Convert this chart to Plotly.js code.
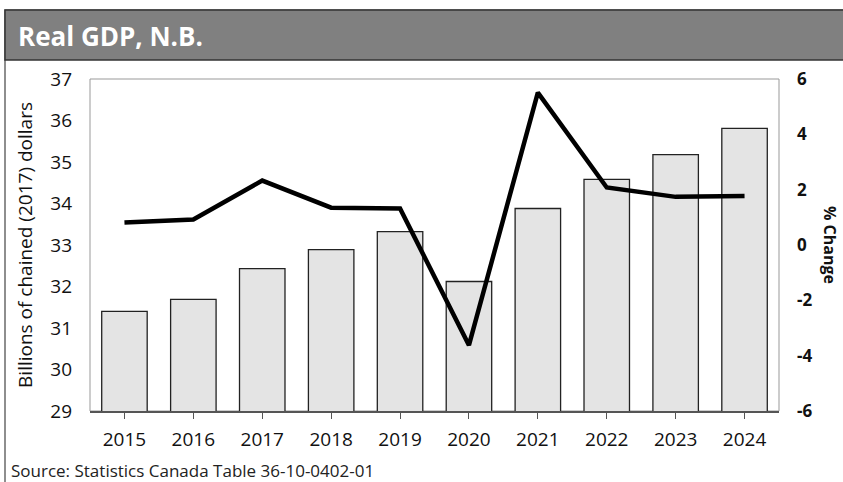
<!DOCTYPE html>
<html>
<head>
<meta charset="utf-8">
<script src="https://cdn.plot.ly/plotly-3.0.1.min.js"></script>
<style>
html,body{margin:0;padding:0;background:#fff;}
#chart{width:843px;height:482px;}
</style>
</head>
<body>
<div id="chart"></div>
<script>
var years = ['2015','2016','2017','2018','2019','2020','2021','2022','2023','2024'];
var gdp = [31.40, 31.69, 32.43, 32.89, 33.32, 32.12, 33.88, 34.58, 35.18, 35.81];
var pctChange = [0.81, 0.92, 2.33, 1.35, 1.32, -3.62, 5.51, 2.08, 1.74, 1.77];
var leftTicks = [29,30,31,32,33,34,35,36,37];
var rightTicks = [-6,-4,-2,0,2,4,6];

var L = 90, R = 779, T = 79, B = 411, W = 843, H = 482;
function px(x){ return (x - L) / (R - L); }
function py(y){ return (B - y) / (B - T); }

var traces = [
  {
    type: 'bar', x: years, y: gdp, yaxis: 'y',
    marker: {color: '#e4e4e4', line: {color: '#222', width: 1.3}},
    hoverinfo: 'x+y'
  },
  {
    type: 'scatter', mode: 'lines', x: years, y: pctChange, yaxis: 'y2',
    line: {color: '#000', width: 4.5},
    hoverinfo: 'x+y'
  }
];

var layout = {
  width: W, height: H,
  margin: {l: L, r: W - R, t: T, b: H - B, pad: 0},
  paper_bgcolor: '#fff', plot_bgcolor: '#fff',
  showlegend: false,
  bargap: 0.34,
  font: {family: 'Open Sans, sans-serif', color: '#111'},
  xaxis: {
    type: 'category', range: [-0.5, 9.5],
    showline: true, linecolor: '#555', linewidth: 2,
    ticks: 'outside', ticklen: 6, tickcolor: '#555', tickwidth: 1,
    ticklabelstandoff: 4,
    tickfont: {size: 19, color: '#111'},
    showgrid: false, zeroline: false
  },
  yaxis: {
    range: [29, 37], tickvals: leftTicks, ticktext: leftTicks.map(String),
    showline: false, showgrid: false, zeroline: false,
    ticks: '', ticklabelstandoff: 17,
    tickfont: {size: 19, color: '#111'},
    title: {text: 'Billions of chained (2017) dollars', font: {size: 19, color: '#111'}, standoff: 12}
  },
  yaxis2: {
    overlaying: 'y', side: 'right',
    range: [-6, 6], tickvals: rightTicks, ticktext: rightTicks.map(String),
    showline: false, showgrid: false, zeroline: false,
    ticks: '', ticklabelstandoff: 17,
    tickfont: {size: 17, color: '#111', weight: 'bold'}
  },
  shapes: [
    {type: 'rect', xref: 'paper', yref: 'paper', layer: 'below',
     x0: px(5), x1: px(850), y0: py(490), y1: py(10),
     line: {color: '#444', width: 1.2}, fillcolor: 'rgba(0,0,0,0)'},
    {type: 'rect', xref: 'paper', yref: 'paper', layer: 'below',
     x0: px(5), x1: px(850), y0: py(60), y1: py(10),
     line: {color: '#333', width: 1.5}, fillcolor: '#808080'},
    {type: 'rect', xref: 'paper', yref: 'paper', layer: 'below',
     x0: 0, x1: 1, y0: 0, y1: 1,
     line: {color: '#999', width: 1}, fillcolor: 'rgba(0,0,0,0)'}
  ],
  annotations: [
    {xref: 'paper', yref: 'paper', x: px(16), y: py(36), xanchor: 'left', yanchor: 'middle',
     text: 'Real GDP, N.B.', showarrow: false,
     font: {family: 'Open Sans, sans-serif', size: 26, color: '#fff', weight: 'bold'}},
    {xref: 'paper', yref: 'paper', x: px(830), y: py(245), xanchor: 'center', yanchor: 'middle',
     text: '% Change', showarrow: false, textangle: 90,
     font: {size: 16, color: '#111', weight: 'bold'}},
    {xref: 'paper', yref: 'paper', x: px(9), y: py(470), xanchor: 'left', yanchor: 'middle',
     text: 'Source: Statistics Canada Table 36-10-0402-01', showarrow: false,
     font: {size: 17, color: '#222'}}
  ]
};

Plotly.newPlot('chart', traces, layout, {displayModeBar: false, staticPlot: true});
</script>
</body>
</html>
